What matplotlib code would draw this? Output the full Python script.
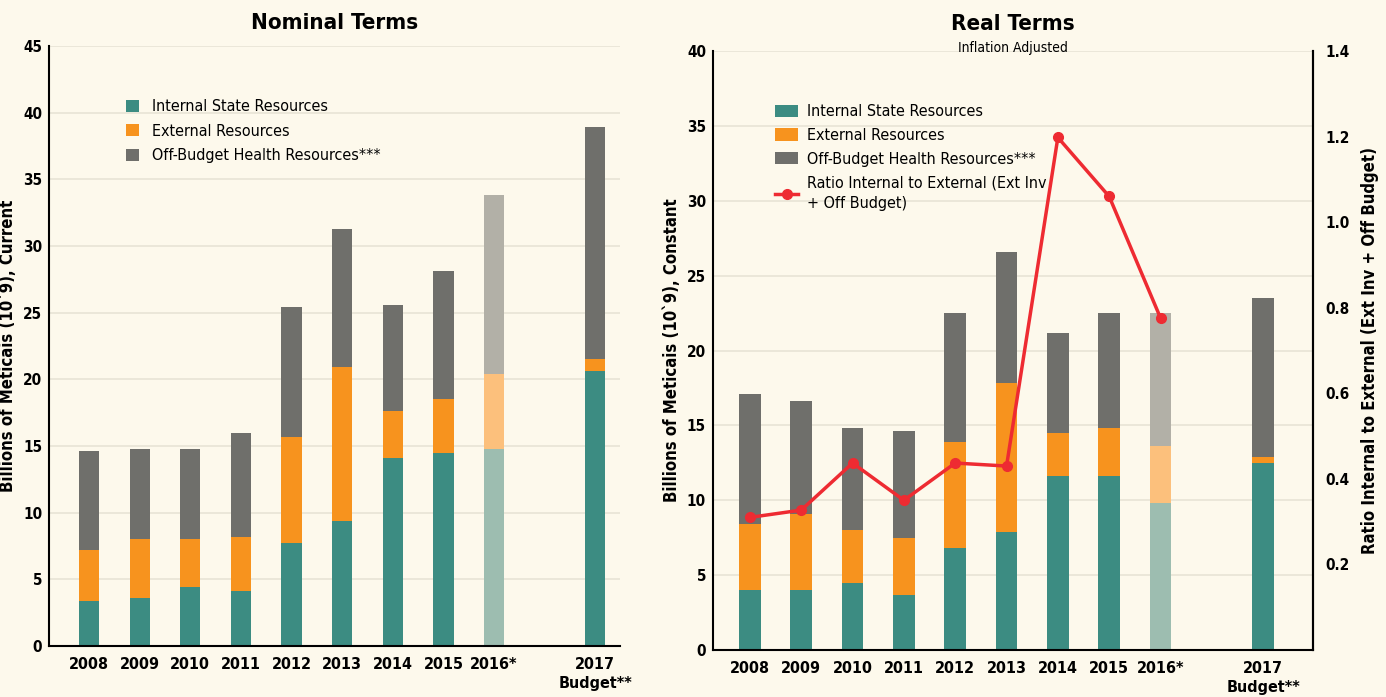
import matplotlib.pyplot as plt
from matplotlib import font_manager as fm
import numpy as np

# the original uses a narrow bold face; pick a condensed font that has a bold weight
fonts = fm.fontManager.ttflist


def wnum(w):
    return w if isinstance(w, (int, float)) else fm.weight_dict.get(w, 400)


dv_cond = [f for f in fonts if f.name == 'DejaVu Sans' and f.stretch in ('condensed', 'semi-condensed')]
narrow = {}
for f in fonts:
    if 'Narrow' in f.name or 'Condensed' in f.name:
        narrow.setdefault(f.name, set()).add(wnum(f.weight))
bold_narrow = sorted(n for n, w in narrow.items() if max(w) >= 600)

if any(wnum(f.weight) >= 600 for f in dv_cond):
    plt.rcParams['font.family'] = ['DejaVu Sans']
    plt.rcParams['font.stretch'] = 'condensed'
elif bold_narrow:
    plt.rcParams['font.family'] = [bold_narrow[0], 'DejaVu Sans']
elif narrow:
    plt.rcParams['font.family'] = [sorted(narrow)[0], 'DejaVu Sans']

years = ['2008', '2009', '2010', '2011', '2012', '2013', '2014', '2015', '2016*', '2017\nBudget**']
xpos = [0, 1, 2, 3, 4, 5, 6, 7, 8, 10]

# Nominal terms (billions of meticais, current)
nom_internal = [3.4, 3.6, 4.4, 4.1, 7.7, 9.4, 14.1, 14.5, 14.8, 20.6]
nom_external = [3.8, 4.4, 3.6, 4.1, 8.0, 11.5, 3.5, 4.0, 5.6, 0.9]
nom_offbudget = [7.4, 6.8, 6.8, 7.8, 9.7, 10.4, 8.0, 9.6, 13.4, 17.4]

# Real terms (billions of meticais, constant)
real_internal = [4.0, 4.0, 4.5, 3.7, 6.8, 7.9, 11.6, 11.6, 9.8, 12.5]
real_external = [4.4, 5.1, 3.5, 3.8, 7.1, 9.9, 2.9, 3.2, 3.8, 0.4]
real_offbudget = [8.7, 7.5, 6.8, 7.1, 8.6, 8.8, 6.7, 7.7, 8.9, 10.6]

ratio = [0.31, 0.327, 0.437, 0.35, 0.437, 0.43, 1.198, 1.06, 0.776]

bg = '#fdf9ec'
teal, orange, grey = '#3c8c82', '#f7931e', '#6f6f6b'
teal_l, orange_l, grey_l = '#9dbdb0', '#fcc07c', '#b2b0a7'
red = '#ee2b32'


def stacked(ax, internal, external, offb, width):
    c1 = [teal_l if i == 8 else teal for i in range(len(xpos))]
    c2 = [orange_l if i == 8 else orange for i in range(len(xpos))]
    c3 = [grey_l if i == 8 else grey for i in range(len(xpos))]
    b1 = ax.bar(xpos, internal, width, color=c1, label='Internal State Resources', zorder=2)
    bot = np.array(internal)
    b2 = ax.bar(xpos, external, width, bottom=bot, color=c2, label='External Resources', zorder=2)
    bot = bot + np.array(external)
    b3 = ax.bar(xpos, offb, width, bottom=bot, color=c3, label='Off-Budget Health Resources***', zorder=2)
    return b1, b2, b3


def style(ax):
    ax.set_facecolor(bg)
    ax.set_xticks(xpos)
    ax.set_xticklabels(years, fontsize=11.5, fontweight='bold', linespacing=1.3, va='top')
    ax.tick_params(axis='x', length=0, pad=8)
    ax.tick_params(axis='y', length=0, labelsize=11, pad=5)
    for lab in ax.get_yticklabels():
        lab.set_fontweight('bold')
    ax.grid(axis='y', color='#e8e4d6', linewidth=1.2, zorder=0)
    ax.spines['top'].set_visible(False)
    ax.spines['right'].set_visible(False)
    ax.spines['left'].set_linewidth(1.5)
    ax.spines['bottom'].set_linewidth(1.5)


fig = plt.figure(figsize=(13.86, 6.97), dpi=100, facecolor=bg)

# Left: nominal terms
ax1 = fig.add_axes([0.0354, 0.0732, 0.412, 0.861])
stacked(ax1, nom_internal, nom_external, nom_offbudget, 0.4)
style(ax1)
ax1.set_ylim(0, 45)
ax1.set_yticks(range(0, 46, 5))
ax1.set_xlim(-0.79, 10.49)
ax1.set_ylabel('Billions of Meticais (10`9), Current', fontsize=12, fontweight='bold', labelpad=4)
ax1.set_title('Nominal Terms', fontsize=16, fontweight='bold', pad=12)
ax1.legend(loc='upper left', bbox_to_anchor=(0.11, 0.935), frameon=False, fontsize=11.5,
           handlelength=0.8, handleheight=0.8, handletextpad=0.8, labelspacing=0.6)

# Right: real terms
ax2 = fig.add_axes([0.5144, 0.0674, 0.4329, 0.8594])
h = stacked(ax2, real_internal, real_external, real_offbudget, 0.42)
style(ax2)
ax2.spines['right'].set_visible(True)
ax2.spines['right'].set_linewidth(1.5)
ax2.set_ylim(0, 40)
ax2.set_yticks(range(0, 41, 5))
ax2.set_xlim(-0.72, 10.97)
ax2.set_ylabel('Billions of Meticais (10`9), Constant', fontsize=12, fontweight='bold', labelpad=4)
ax2.set_title('Real Terms', fontsize=16, fontweight='bold', pad=15)
ax2.text(0.5, 1.005, 'Inflation Adjusted', transform=ax2.transAxes, ha='center', va='center', fontsize=10)

ax3 = ax2.twinx()
line, = ax3.plot(xpos[:9], ratio, color=red, linewidth=2.5, marker='o', markersize=7,
                 label='Ratio Internal to External (Ext Inv\n+ Off Budget)', zorder=4)
ax3.set_ylim(0, 1.4)
ax3.set_yticks([0.2, 0.4, 0.6, 0.8, 1.0, 1.2, 1.4])
ax3.set_yticklabels(['0.2', '0.4', '0.6', '0.8', '1.0', '1.2', '1.4'], fontweight='bold')
ax3.tick_params(axis='y', length=0, labelsize=11, pad=9)
for s in ['top', 'left', 'bottom']:
    ax3.spines[s].set_visible(False)
ax3.spines['right'].set_linewidth(1.5)
ax3.set_ylabel('Ratio Internal to External (Ext Inv + Off Budget)', fontsize=12, fontweight='bold', labelpad=8)

leg2 = ax2.legend(list(h) + [line], [b.get_label() for b in h] + [line.get_label()],
                  loc='upper left', bbox_to_anchor=(0.08, 0.935), frameon=False, fontsize=11.5,
                  handlelength=1.4, handleheight=0.8, handletextpad=0.6, labelspacing=0.55)
for t in leg2.get_texts():
    t.set_linespacing(1.45)

fig.savefig('out.png', dpi=100, facecolor=bg)
